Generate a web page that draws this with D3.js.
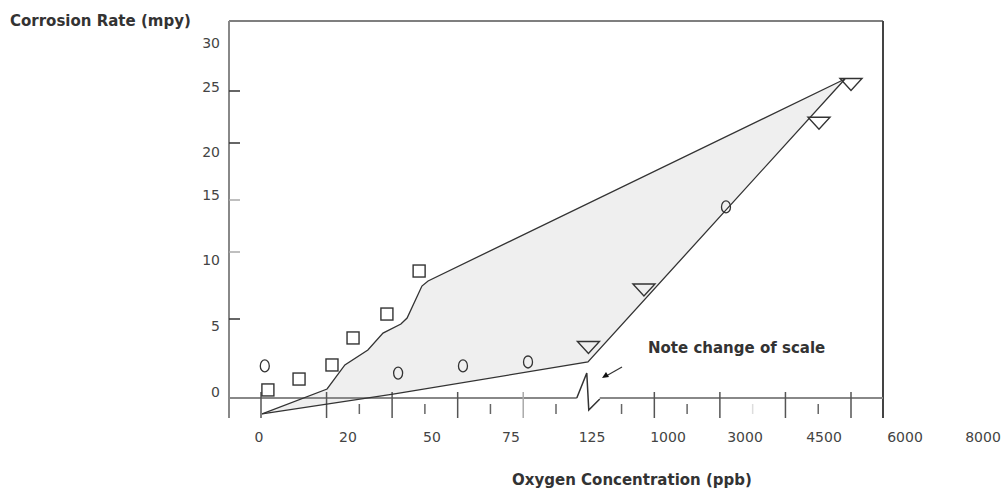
<!DOCTYPE html>
<html><head><meta charset="utf-8">
<script src="https://cdn.jsdelivr.net/npm/d3@7"></script>
<style>body{margin:0;background:#fff}svg{display:block}</style>
</head><body><svg id="c" width="1006" height="488"></svg>
<script>
// ---------------- data ----------------
const xTickLabels = ["0","20","50","75","125","1000","3000","4500","6000","8000"];
const xTickValues = [0,20,50,75,125,1000,3000,4500,6000,8000];
const yTickLabels = ["0","5","10","15","20","25","30"];
const yTickValues = [0,5,10,15,20,25,30];
const yTickMarks = [5,10,15,20,25];
// oxygen (ppb), corrosion rate (mpy)
const squares   = [[2.0,0.51],[9.0,1.2],[16.4,2.09],[21.8,3.8],[33.9,5.37],[45.4,8.58]];
const circles   = [[1.3,2.03],[37.9,1.58],[59.8,2.03],[85.5,2.28],[2506,14.33]];
const triangles = [[122.8,3.2],[723,7.16],[4405,21.9],[5000,25.64]];
const upperBound = [[0.7,-1.0],[15.3,0.57],[19.3,2.09],[27.1,3.04],[32.5,4.11],[38.9,4.68],[41.1,5.07],[46.4,7.46],[48.6,7.84],[4889,26.18]];
const lowerBound = [[0.7,-1.0],[36.1,0.25],[122.5,2.28],[4889,26.18]];
const majorTickIdx = [0,1,2,3,4,6,7,8,9];
const minorTickIdx = [1.5,2.5,3.5,4.5,5.5,6.5,7.5,8.5];
const breakIdx = 5;

// ---------------- layout ----------------
const svg = d3.select("#c");
const plot = {left:229, right:883, top:21, axisY:398, bottom:418};
const x = d3.scaleLinear().domain(xTickValues).range([259,348,432,511,592,668,745,824,905,983]);
const y = d3.scaleLinear().domain(yTickValues).range([398,319,252,200,143,91,40]);
const yLab = d3.scaleLinear().domain(yTickValues).range([392,326,260,195,152,87,43]);
const tickPos = d3.scaleLinear().domain([0,9]).range([261,851]);
const ink = "#333";

// shaded region
const poly = upperBound.concat(lowerBound.slice().reverse());
const line = d3.line().x(d=>x(d[0])).y(d=>y(d[1]));
svg.append("path").attr("d", line(poly)+"Z").attr("fill","#efefef").attr("stroke","none");

// frame
svg.append("line").attr("x1",plot.left).attr("x2",plot.right).attr("y1",plot.top).attr("y2",plot.top)
  .attr("stroke","#555").attr("stroke-width",1.5);
svg.append("line").attr("x1",plot.right).attr("x2",plot.right).attr("y1",plot.top).attr("y2",plot.bottom)
  .attr("stroke","#444").attr("stroke-width",2);
svg.append("line").attr("x1",plot.left).attr("x2",plot.left).attr("y1",plot.top).attr("y2",plot.bottom)
  .attr("stroke","#888").attr("stroke-width",2);

// x axis with break
const bx = tickPos(breakIdx);
svg.append("line").attr("x1",plot.left).attr("x2",bx-12).attr("y1",plot.axisY).attr("y2",plot.axisY)
  .attr("stroke","#888").attr("stroke-width",2);
svg.append("line").attr("x1",bx+11).attr("x2",plot.right).attr("y1",plot.axisY).attr("y2",plot.axisY)
  .attr("stroke","#888").attr("stroke-width",2);
svg.append("path").attr("d",`M${bx-12},${plot.axisY}L${bx-2},${plot.axisY-25}L${bx},${plot.axisY+12}L${bx+11},${plot.axisY+1}`)
  .attr("fill","none").attr("stroke",ink).attr("stroke-width",1.5);

// x ticks
svg.selectAll(".xmaj").data(majorTickIdx).enter().append("line")
  .attr("x1",d=>tickPos(d)).attr("x2",d=>tickPos(d)).attr("y1",plot.axisY-6).attr("y2",plot.axisY+20)
  .attr("stroke",d=>d===4?"#aaa":"#555").attr("stroke-width",1.5);
svg.selectAll(".xmin").data(minorTickIdx).enter().append("line")
  .attr("x1",d=>tickPos(d)).attr("x2",d=>tickPos(d)).attr("y1",plot.axisY+6).attr("y2",plot.axisY+16)
  .attr("stroke",d=>d===7.5?"#ddd":"#666").attr("stroke-width",1.5);

// y ticks
svg.selectAll(".ytk").data(yTickMarks).enter().append("line")
  .attr("x1",plot.left).attr("x2",plot.left+11).attr("y1",d=>y(d)).attr("y2",d=>y(d))
  .attr("stroke",d=>(d===10||d===15)?"#aaa":"#333").attr("stroke-width",1.5);

// tick labels
const tickFont = "'DejaVu Sans', Verdana, sans-serif";
svg.selectAll(".xl").data(xTickValues).enter().append("text")
  .attr("x",d=>x(d)).attr("y",437).attr("dy","0.36em").attr("text-anchor","middle")
  .attr("font-family",tickFont).attr("font-size",14).attr("fill","#444")
  .text((d,i)=>xTickLabels[i]);
svg.selectAll(".yl").data(yTickValues).enter().append("text")
  .attr("x",220).attr("y",d=>yLab(d)).attr("dy","0.36em").attr("text-anchor","end")
  .attr("font-family",tickFont).attr("font-size",14).attr("fill","#444")
  .text((d,i)=>yTickLabels[i]);

// titles
const boldText = (t,xx,yy,anchor)=>svg.append("text").attr("x",xx).attr("y",yy).attr("dy","0.36em")
  .attr("text-anchor",anchor).attr("font-family",tickFont).attr("font-weight","bold")
  .attr("font-size",15).attr("fill","#333").text(t);
boldText("Corrosion Rate (mpy)",10,21,"start");
boldText("Oxygen Concentration (ppb)",632,480,"middle");
boldText("Note change of scale",648,348,"start");

// arrow
svg.append("line").attr("x1",622).attr("y1",367).attr("x2",607).attr("y2",375.5)
  .attr("stroke",ink).attr("stroke-width",1.2);
svg.append("path").attr("d","M602,378L606,372L609,377Z").attr("fill","#111");

// boundary lines
svg.append("path").attr("d",line(upperBound)).attr("fill","none").attr("stroke",ink).attr("stroke-width",1.3);
svg.append("path").attr("d",line(lowerBound)).attr("fill","none").attr("stroke",ink).attr("stroke-width",1.3);

// markers
svg.selectAll(".sq").data(squares).enter().append("rect")
  .attr("x",d=>x(d[0])-6).attr("y",d=>y(d[1])-6).attr("width",12).attr("height",12)
  .attr("fill","none").attr("stroke",ink).attr("stroke-width",1.4);
svg.selectAll(".ci").data(circles).enter().append("ellipse")
  .attr("cx",d=>x(d[0])).attr("cy",d=>y(d[1])).attr("rx",4.5).attr("ry",6)
  .attr("fill","none").attr("stroke",ink).attr("stroke-width",1.3);
svg.selectAll(".tr").data(triangles).enter().append("path")
  .attr("d",d=>{const cx=x(d[0]), cy=y(d[1]); return `M${cx-11},${cy-6}L${cx+11},${cy-6}L${cx},${cy+6}Z`;})
  .attr("fill","none").attr("stroke",ink).attr("stroke-width",1.4);
</script></body></html>
